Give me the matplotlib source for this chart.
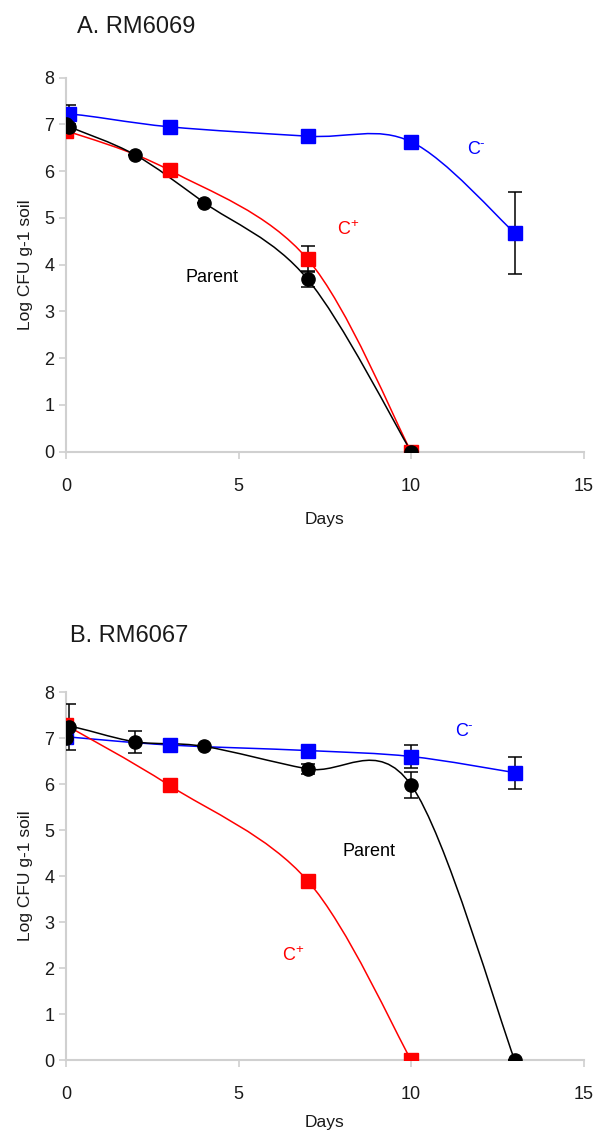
import numpy as np
import matplotlib
matplotlib.use("Agg")
import matplotlib.pyplot as plt
from matplotlib.path import Path
from matplotlib.patches import PathPatch

plt.rcParams["font.family"] = ["Liberation Sans", "DejaVu Sans"]

# ---- panel A: RM6069 ----
a_parent_days = [0, 0.1, 2, 4, 7, 10]
a_parent_vals = [7.0, 6.95, 6.35, 5.33, 3.69, 0.0]
a_parent_err = [0.0, 0.0, 0.0, 0.0, 0.17, 0.0]

a_cplus_days = [0, 3, 7, 10]
a_cplus_vals = [6.87, 6.02, 4.12, 0.0]
a_cplus_err = [0.0, 0.0, 0.28, 0.0]

a_cminus_days = [0, 0.1, 3, 7, 10, 13]
a_cminus_vals = [7.0, 7.22, 6.95, 6.75, 6.63, 4.68]
a_cminus_err = [0.0, 0.2, 0.0, 0.12, 0.1, 0.88]

# ---- panel B: RM6067 ----
b_parent_days = [0, 0.1, 2, 4, 7, 10, 13]
b_parent_vals = [7.0, 7.25, 6.92, 6.82, 6.33, 5.98, 0.0]
b_parent_err = [0.0, 0.5, 0.24, 0.0, 0.1, 0.28, 0.0]

b_cplus_days = [0, 3, 7, 10]
b_cplus_vals = [7.28, 5.97, 3.9, 0.0]
b_cplus_err = [0.0, 0.0, 0.0, 0.0]

b_cminus_days = [0, 3, 7, 10, 13]
b_cminus_vals = [7.03, 6.85, 6.73, 6.6, 6.25]
b_cminus_err = [0.0, 0.0, 0.0, 0.25, 0.35]

BLUE = "#0000ff"
RED = "#ff0000"
TXT = "#1a1a1a"


def smooth_line(ax, xs, ys, color):
    # Excel-style smoothed line: cubic bezier through the points
    p = np.column_stack([xs, ys]).astype(float)
    n = len(p)
    verts = [p[0]]
    codes = [Path.MOVETO]
    for i in range(n - 1):
        p0 = p[i - 1] if i > 0 else p[i]
        p3 = p[i + 2] if i + 2 < n else p[i + 1]
        c1 = p[i] + (p[i + 1] - p0) / 6.0
        c2 = p[i + 1] - (p3 - p[i]) / 6.0
        verts += [c1, c2, p[i + 1]]
        codes += [Path.CURVE4] * 3
    ax.add_patch(PathPatch(Path(verts, codes), facecolor="none",
                           edgecolor=color, lw=1.1, zorder=2))


def series(ax, days, vals, err, color, marker):
    smooth_line(ax, days, vals, color)
    ax.errorbar(days, vals, yerr=np.array(err), fmt="none", ecolor="black",
                elinewidth=1.1, capsize=5, capthick=1.1, zorder=3)
    ax.plot(days, vals, ls="none", marker=marker, ms=9.5, mfc=color,
            mec=color if marker == "s" else "black", zorder=4)


def c_label(ax, x, y, sup, color):
    ax.text(x, y, "C", color=color, fontsize=13, ha="center", va="center")
    ax.annotate(sup, xy=(x, y), xytext=(4.5, 4), textcoords="offset points",
                color=color, fontsize=9.5, ha="left", va="center")


def style(ax, labelpad):
    ax.set_xlim(0, 15)
    ax.set_ylim(0, 8)
    ax.set_xticks([0, 5, 10, 15])
    ax.set_yticks(range(0, 9))
    for s in ["top", "right"]:
        ax.spines[s].set_visible(False)
    for s in ["left", "bottom"]:
        ax.spines[s].set_color("#d0d0d0")
        ax.spines[s].set_linewidth(1.5)
    ax.tick_params(colors="#d0d0d0", labelcolor=TXT, labelsize=13,
                   length=5, width=1.2)
    ax.tick_params(axis="x", pad=14)
    ax.set_xlabel("Days", fontsize=12.5, color=TXT, labelpad=labelpad)
    ax.set_ylabel("Log CFU g-1 soil", fontsize=12.5, color=TXT, labelpad=8)


fig = plt.figure(figsize=(5.95, 11.35), dpi=100)

axA = fig.add_axes([0.111, 0.602, 0.870, 0.3295])
style(axA, 12)
series(axA, a_cminus_days, a_cminus_vals, a_cminus_err, BLUE, "s")
series(axA, a_cplus_days, a_cplus_vals, a_cplus_err, RED, "s")
series(axA, a_parent_days, a_parent_vals, a_parent_err, "black", "o")
c_label(axA, 11.8, 6.47, "-", BLUE)
c_label(axA, 8.05, 4.75, "+", RED)
axA.text(4.23, 3.72, "Parent", color="black", fontsize=13, ha="center", va="center")
fig.text(0.129, 0.976, "A. RM6069", fontsize=17, color=TXT, ha="left", va="center")

axB = fig.add_axes([0.111, 0.066, 0.870, 0.3242])
style(axB, 8)
series(axB, b_cminus_days, b_cminus_vals, b_cminus_err, BLUE, "s")
series(axB, b_cplus_days, b_cplus_vals, b_cplus_err, RED, "s")
series(axB, b_parent_days, b_parent_vals, b_parent_err, "black", "o")
c_label(axB, 11.45, 7.15, "-", BLUE)
c_label(axB, 6.45, 2.27, "+", RED)
axB.text(8.77, 4.53, "Parent", color="black", fontsize=13, ha="center", va="center")
fig.text(0.118, 0.440, "B. RM6067", fontsize=17, color=TXT, ha="left", va="center")

fig.savefig("out.png", dpi=100)
